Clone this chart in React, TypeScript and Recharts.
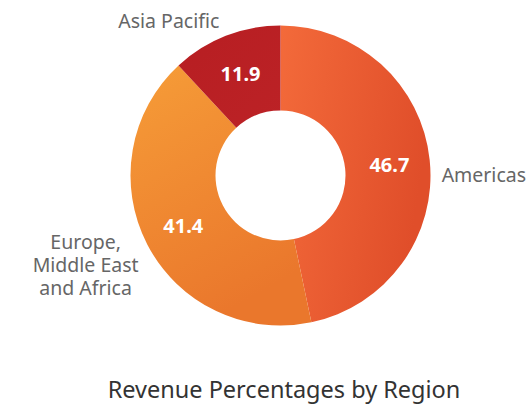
import React from "react";
import { PieChart, Pie, Cell } from "recharts";

const regions = ["Americas", "Europe,\nMiddle East\nand Africa", "Asia Pacific"];
const shares = [46.7, 41.4, 11.9];
const gradIds = ["gAm", "gEu", "gAs"];

const data = regions.map((name, i) => ({ name, value: shares[i] }));

const RAD = Math.PI / 180;
const FONT = "'Noto Sans', 'Open Sans', sans-serif";

const renderLabel = (props: any) => {
  const { cx, cy, midAngle, innerRadius, outerRadius, value, name } = props;
  const cos = Math.cos(-midAngle * RAD);
  const sin = Math.sin(-midAngle * RAD);
  const rIn = (innerRadius + outerRadius) / 2 + 2;
  const vx = cx + rIn * cos;
  const vy = cy + rIn * sin;
  const rOut = outerRadius + 12;
  const ox = cx + rOut * cos;
  const oy = cy + rOut * sin;
  const lines = String(name).split("\n");
  const lineH = 23;
  const maxLen = Math.max(...lines.map((l) => l.length));
  const estW = maxLen * 10;
  const multi = lines.length > 1;
  let tx = ox;
  let anchor: "start" | "middle" | "end" = "start";
  if (multi) {
    anchor = "middle";
    tx = ox - estW / 2 + 4;
  } else if (cos < 0) {
    anchor = "end";
    tx = ox - 2;
  }
  const ty = multi
    ? oy - ((lines.length - 1) * lineH) / 2 + 14
    : cos > 0.5
    ? oy + 15
    : oy - 5;
  return (
    <g>
      <text
        x={vx}
        y={vy}
        fill="#ffffff"
        textAnchor="middle"
        dominantBaseline="central"
        style={{ fontFamily: FONT, fontSize: 20, fontWeight: 700 }}
      >
        {value}
      </text>
      <text
        x={tx}
        y={ty}
        fill="#666666"
        textAnchor={anchor}
        dominantBaseline="central"
        style={{ fontFamily: FONT, fontSize: 19.5 }}
      >
        {lines.map((l, i) => (
          <tspan key={i} x={tx} dy={i === 0 ? 0 : lineH}>
            {l}
          </tspan>
        ))}
      </text>
    </g>
  );
};

export default function App() {
  return (
    <div style={{ position: "absolute", left: 0, top: 0, width: 528, height: 404, background: "#fff" }}>
      <PieChart width={528} height={404} margin={{ top: 0, right: 0, bottom: 0, left: 0 }}>
        <defs>
          <linearGradient id="gAm" x1="0" y1="0" x2="1" y2="0.3">
            <stop offset="0%" stopColor="#F36A3A" />
            <stop offset="100%" stopColor="#E04E2A" />
          </linearGradient>
          <linearGradient id="gEu" x1="0" y1="0" x2="0.4" y2="1">
            <stop offset="0%" stopColor="#F69D38" />
            <stop offset="100%" stopColor="#EA772C" />
          </linearGradient>
          <linearGradient id="gAs" x1="0" y1="0" x2="1" y2="1">
            <stop offset="0%" stopColor="#B71E22" />
            <stop offset="100%" stopColor="#BC2226" />
          </linearGradient>
        </defs>
        <Pie
          data={data}
          dataKey="value"
          nameKey="name"
          cx={280.5}
          cy={175.5}
          innerRadius={65}
          outerRadius={150}
          startAngle={90}
          endAngle={-270}
          stroke="none"
          label={renderLabel}
          labelLine={false}
          isAnimationActive={false}
        >
          {data.map((d, i) => (
            <Cell key={d.name} fill={`url(#${gradIds[i]})`} />
          ))}
        </Pie>
      </PieChart>
      <div
        style={{
          position: "absolute",
          left: 0,
          width: 568,
          top: 374,
          textAlign: "center",
          fontFamily: FONT,
          fontSize: 23.5,
          color: "#333333",
          lineHeight: "30px",
        }}
      >
        Revenue Percentages by Region
      </div>
    </div>
  );
}
